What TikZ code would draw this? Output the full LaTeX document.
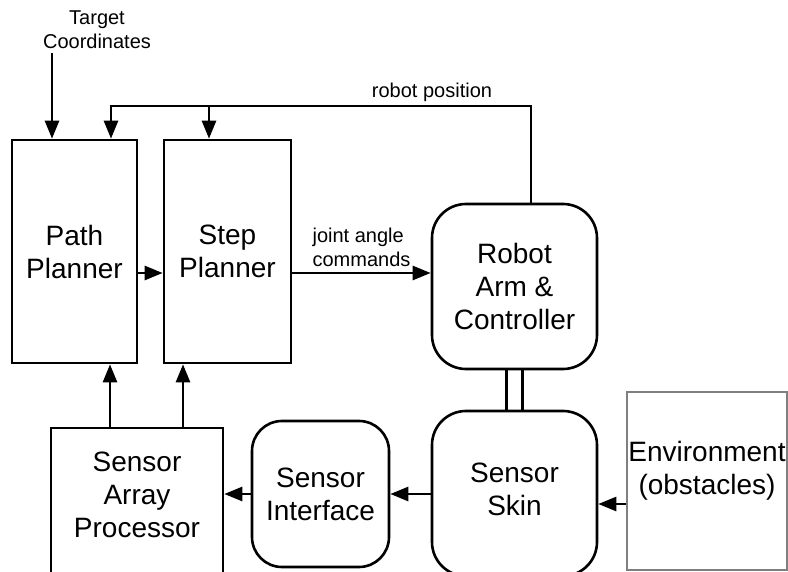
\documentclass[tikz,border=0pt]{standalone}
\usepackage{fontspec}
\setmainfont{Liberation Sans}
\usepackage{tikz}
\usetikzlibrary{arrows.meta,positioning}
\definecolor{linemain}{HTML}{000000}
\definecolor{envgray}{HTML}{7F7F7F}
\tikzset{every node/.append style={font=\fontsize{28}{33}\selectfont}}

\begin{document}
\begin{tikzpicture}[x=1pt,y=-1pt,>={Triangle[length=18pt,width=14pt]},
    blk/.style={draw=linemain,line width=2.6pt,align=center,inner sep=0pt},
    rblk/.style={blk,rounded corners=34pt},
    small/.style={font=\fontsize{20}{24}\selectfont,align=center,inner sep=0pt},
    lbl/.style={align=center,inner sep=0pt},
    conn/.style={linemain,line width=2.6pt}]
  \useasboundingbox (0,0) rectangle (788,572);
  % blocks
  \node[blk,minimum width=125pt,minimum height=223pt] (path) at (74.5,251.5) {Path\\Planner};
  \node[blk,minimum width=127pt,minimum height=223pt] (step) at (227.5,251.5) {Step\\Planner};
  \node[rblk,minimum width=165pt,minimum height=165pt] (robot) at (514.5,286.5) {Robot\\Arm \&\\Controller};
  \node[rblk,minimum width=165pt,minimum height=165pt] (skin) at (514.5,493.5) {};
  \node[lbl] (skintext) at (514.5,489) {Sensor\\Skin};
  \node[rblk,rounded corners=30pt,minimum width=137pt,minimum height=146pt] (iface) at (320.5,494) {Sensor\\Interface};
  \node[blk,minimum width=172pt,minimum height=150pt] (sap) at (137,503) {};
  \node[lbl] (saptext) at (137,495) {Sensor\\Array\\Processor};
  \node[blk,draw=envgray,line width=2pt,minimum width=160pt,minimum height=178pt] (env) at (707,481) {};
  \node[lbl] (envtext) at (707,471) {Environment\\(obstacles)};
  % inputs and feedback
  \node[small] (tgt) at (97,29.5) {Target\\Coordinates};
  \coordinate (tc) at (52,53);
  \draw[conn,->] (tc) -- (tc |- path.north);
  \coordinate (fb) at (111,106);
  \coordinate (fbstep) at (209,106);
  \draw[conn,->] ([xshift=16.5pt]robot.north) |- (fb) -- (fb |- path.north);
  \draw[conn,->] (fbstep) -- (fbstep |- step.north);
  \node[small] (robpos) at (432,92) {robot position};
  % forward path
  \draw[conn,->] ([yshift=-21.5pt]path.east) -- ([yshift=-21.5pt]path.east -| step.west);
  \draw[conn,->] ([yshift=-21.5pt]step.east) -- ([yshift=-21.5pt]step.east -| robot.west)
    node[small,midway,above=5pt,align=left] (jac) {joint angle\\commands};
  \draw[conn] ([xshift=-8pt]robot.south) -- ([xshift=-8pt]robot.south |- skin.north);
  \draw[conn] ([xshift=8pt]robot.south) -- ([xshift=8pt]robot.south |- skin.north);
  % sensing
  \draw[conn,->] ([yshift=-23pt]env.west) -- ([yshift=-23pt]env.west -| skin.east);
  \draw[conn,->] (skin.west |- iface.east) -- (iface.east);
  \draw[conn,->] (iface.west) -- (iface.west -| sap.east);
  \draw[conn,->] ([xshift=-27pt]sap.north) -- ([xshift=-27pt]sap.north |- path.south);
  \draw[conn,->] ([xshift=46pt]sap.north) -- ([xshift=46pt]sap.north |- step.south);
\end{tikzpicture}
\end{document}
